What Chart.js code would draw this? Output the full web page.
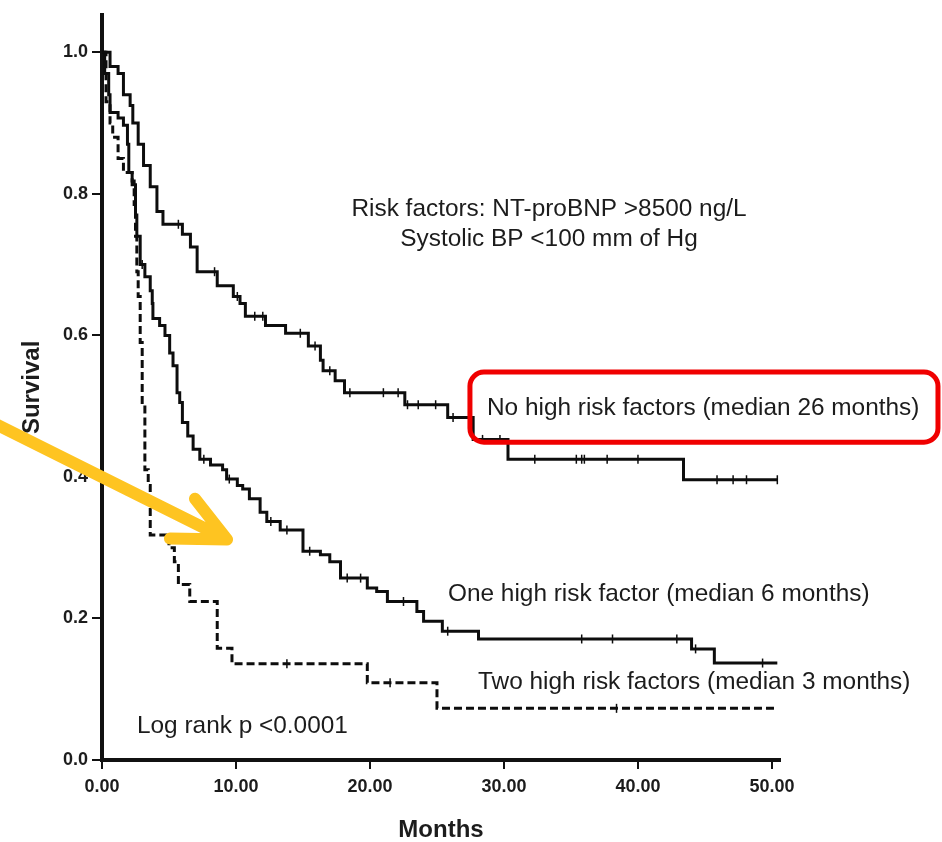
<!DOCTYPE html>
<html>
<head>
<meta charset="utf-8">
<title>Survival by number of high risk factors</title>
<script src="https://cdn.jsdelivr.net/npm/chart.js@4.4.1/dist/chart.umd.min.js"></script>
<style>
  html, body { margin: 0; padding: 0; background: #ffffff; }
  #wrap { width: 942px; height: 842px; }
</style>
</head>
<body>
<div id="wrap"><canvas id="km" width="942" height="842"></canvas></div>
<script>
// Kaplan-Meier steps: survival drops to S[i] at month T[i]
const noRiskMonths = [0, 0.6, 1.2, 1.6, 2.1, 2.3, 2.7, 3.1, 3.6, 4.1, 4.55, 6.0, 6.6, 7.1, 8.6, 9.8, 10.3, 10.7, 12.2, 13.7, 15.4, 16.3, 16.5, 17.4, 18.1, 22.6, 25.8, 27.7, 30.3, 43.4, 50.4];
const noRiskSurvival = [1.0, 0.98, 0.97, 0.94, 0.925, 0.9, 0.87, 0.84, 0.81, 0.775, 0.757, 0.743, 0.725, 0.69, 0.67, 0.655, 0.645, 0.627, 0.614, 0.603, 0.585, 0.565, 0.55, 0.536, 0.519, 0.502, 0.484, 0.453, 0.425, 0.396, 0.396];
const noRiskCensored = [5.7, 8.4, 10.1, 11.4, 12.0, 14.8, 15.9, 17.0, 18.5, 21.0, 22.1, 22.8, 23.6, 24.9, 26.2, 28.4, 29.7, 32.3, 35.4, 35.8, 36.0, 37.7, 40.0, 45.9, 47.1, 48.1, 50.4];

const oneRiskMonths = [0, 0.2, 0.5, 0.6, 1.2, 1.6, 1.9, 2.0, 2.25, 2.5, 2.6, 2.85, 3.2, 3.6, 3.75, 3.8, 4.3, 4.7, 5.05, 5.3, 5.6, 5.8, 6.0, 6.4, 6.8, 7.3, 8.1, 9.0, 9.3, 10.1, 10.5, 11.0, 11.8, 12.3, 13.3, 15.0, 16.3, 17.0, 17.8, 19.8, 20.5, 21.3, 23.5, 24.0, 25.4, 28.1, 44.0, 45.7, 50.4];
const oneRiskSurvival = [1.0, 0.97, 0.94, 0.915, 0.907, 0.897, 0.87, 0.83, 0.813, 0.77, 0.74, 0.7, 0.683, 0.663, 0.645, 0.624, 0.614, 0.6, 0.575, 0.557, 0.519, 0.505, 0.477, 0.458, 0.439, 0.425, 0.417, 0.41, 0.397, 0.388, 0.383, 0.369, 0.35, 0.337, 0.325, 0.295, 0.29, 0.28, 0.257, 0.243, 0.238, 0.224, 0.21, 0.196, 0.182, 0.171, 0.157, 0.137, 0.137];
const oneRiskCensored = [3.0, 7.6, 9.5, 12.6, 13.8, 15.5, 18.3, 19.3, 22.5, 25.8, 35.8, 38.1, 42.9, 44.3, 49.3];

const twoRiskMonths = [0, 0.3, 0.6, 0.8, 1.2, 1.6, 2.25, 2.4, 2.5, 2.6, 2.7, 2.85, 3.0, 3.2, 3.45, 3.6, 5.0, 5.4, 5.7, 6.55, 8.6, 9.7, 19.8, 25.0, 50.4];
const twoRiskSurvival = [1.0, 0.93, 0.9, 0.88, 0.85, 0.83, 0.818, 0.785, 0.74, 0.69, 0.655, 0.59, 0.505, 0.41, 0.388, 0.318, 0.3, 0.28, 0.248, 0.224, 0.158, 0.136, 0.109, 0.073, 0.073];
const twoRiskCensored = [13.8, 21.5, 38.4];

const xTickValues = [0, 10, 20, 30, 40, 50];
const yTickValues = [0, 0.2, 0.4, 0.6, 0.8, 1.0];

// text notes, anchored in (months, survival)
const notes = [
  { text: "Risk factors: NT-proBNP >8500 ng/L", at: [33.36, 0.769], align: "center" },
  { text: "Systolic BP <100 mm of Hg", at: [33.36, 0.727], align: "center" },
  { text: "No high risk factors (median 26 months)", at: [28.73, 0.487], align: "left" },
  { text: "One high risk factor (median 6 months)", at: [25.82, 0.2246], align: "left" },
  { text: "Two high risk factors (median 3 months)", at: [28.06, 0.101], align: "left" },
  { text: "Log rank p <0.0001", at: [2.61, 0.0379], align: "left" }
];
const highlightBox = { from: [27.46, 0.5481], to: [62.39, 0.4491] };
const pointer = { from: [-8.5, 0.48], tip: [9.33, 0.3116], armA: [6.94, 0.3691], armB: [5.07, 0.313] };

Chart.defaults.font.family = '"Liberation Sans", Arial, sans-serif';

function survivalAt(months, surv, t) {
  let s = surv[0];
  for (let i = 0; i < months.length; i += 1) {
    if (months[i] <= t) s = surv[i];
  }
  return s;
}

function curve(months, surv) {
  return months.map((m, i) => ({ x: m, y: surv[i] }));
}

function censorMarks(times, months, surv) {
  return times.map((t) => ({ x: t, y: survivalAt(months, surv, t) }));
}

function stepLine(data, dashed) {
  return {
    data: data,
    borderColor: "#0d0d0d",
    borderWidth: 3,
    borderDash: dashed ? [8, 4] : [],
    borderJoinStyle: "miter",
    pointRadius: 0,
    stepped: "before",
    fill: false
  };
}

function tickSet(data) {
  return {
    data: data,
    showLine: false,
    pointStyle: "line",
    rotation: 90,
    pointRadius: 4.5,
    pointBorderWidth: 1.5,
    borderColor: "#0d0d0d",
    clip: false
  };
}

const overlay = {
  id: "overlay",
  afterDraw(chart) {
    const { ctx, scales: { x, y } } = chart;
    const px = (m) => x.getPixelForValue(m);
    const py = (s) => y.getPixelForValue(s);
    ctx.save();

    ctx.fillStyle = "#1c1c1c";
    ctx.font = '24.4px "Liberation Sans", Arial, sans-serif';
    ctx.textBaseline = "alphabetic";
    notes.forEach((n) => {
      ctx.textAlign = n.align;
      ctx.fillText(n.text, px(n.at[0]), py(n.at[1]));
    });

    // red frame around the top group label
    const bx = px(highlightBox.from[0]);
    const by = py(highlightBox.from[1]);
    ctx.strokeStyle = "#f00000";
    ctx.lineWidth = 5;
    ctx.beginPath();
    ctx.roundRect(bx, by, px(highlightBox.to[0]) - bx, py(highlightBox.to[1]) - by, 14);
    ctx.stroke();

    // yellow pointer
    ctx.strokeStyle = "#fec421";
    ctx.lineWidth = 12;
    ctx.lineCap = "round";
    ctx.lineJoin = "round";
    ctx.beginPath();
    ctx.moveTo(px(pointer.from[0]), py(pointer.from[1]));
    ctx.lineTo(px(pointer.tip[0]), py(pointer.tip[1]));
    ctx.moveTo(px(pointer.armA[0]), py(pointer.armA[1]));
    ctx.lineTo(px(pointer.tip[0]), py(pointer.tip[1]));
    ctx.lineTo(px(pointer.armB[0]), py(pointer.armB[1]));
    ctx.stroke();

    ctx.restore();
  }
};

new Chart(document.getElementById("km"), {
  type: "line",
  data: {
    datasets: [
      stepLine(curve(noRiskMonths, noRiskSurvival), false),
      stepLine(curve(oneRiskMonths, oneRiskSurvival), false),
      stepLine(curve(twoRiskMonths, twoRiskSurvival), true),
      tickSet(censorMarks(noRiskCensored, noRiskMonths, noRiskSurvival)),
      tickSet(censorMarks(oneRiskCensored, oneRiskMonths, oneRiskSurvival)),
      tickSet(censorMarks(twoRiskCensored, twoRiskMonths, twoRiskSurvival))
    ]
  },
  options: {
    responsive: false,
    animation: false,
    layout: { padding: { left: 0, top: 10, right: 162, bottom: 0 } },
    plugins: { legend: { display: false }, tooltip: { enabled: false } },
    scales: {
      x: {
        type: "linear",
        min: 0,
        max: 50.6,
        afterBuildTicks(scale) { scale.ticks = xTickValues.map((v) => ({ value: v })); },
        afterFit(scale) { scale.height = 82; },
        grid: { drawOnChartArea: false, color: "#111", lineWidth: 2, tickLength: 9 },
        border: { color: "#111", width: 4 },
        ticks: {
          color: "#1c1c1c",
          padding: 7,
          maxRotation: 0,
          font: { size: 18, weight: "bold" },
          callback: (v) => Number(v).toFixed(2)
        },
        title: {
          display: true,
          text: "Months",
          color: "#1c1c1c",
          font: { size: 24, weight: "bold", lineHeight: 1 },
          padding: { top: 0, bottom: 0 }
        }
      },
      y: {
        min: 0,
        max: 1.053,
        afterBuildTicks(scale) { scale.ticks = yTickValues.map((v) => ({ value: v })); },
        afterFit(scale) { scale.width = 102; },
        grid: { drawOnChartArea: false, color: "#111", lineWidth: 2, tickLength: 10 },
        border: { color: "#111", width: 4 },
        ticks: {
          color: "#1c1c1c",
          padding: 4,
          font: { size: 18, weight: "bold" },
          callback: (v) => Number(v).toFixed(1)
        },
        title: {
          display: true,
          text: "Survival",
          color: "#1c1c1c",
          font: { size: 24, weight: "bold" },
          padding: { top: 18, bottom: 0 }
        }
      }
    }
  },
  plugins: [overlay]
});
</script>
</body>
</html>
